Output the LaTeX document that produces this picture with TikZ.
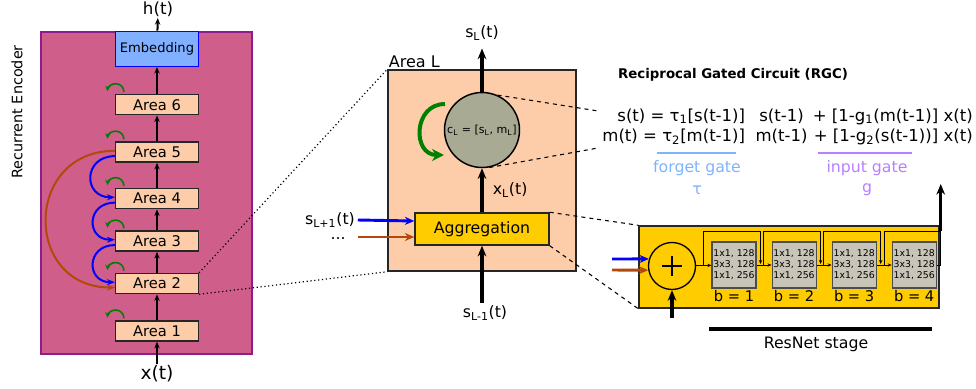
\documentclass[tikz,border=0pt]{standalone}
\usepackage{fontspec}
\setmainfont{DejaVu Sans}
\usepackage{tikz}
\usetikzlibrary{positioning,calc,arrows.meta,shapes}
\definecolor{encfill}{RGB}{208,94,138}
\definecolor{encdraw}{RGB}{142,28,140}
\definecolor{peach}{RGB}{253,204,168}
\definecolor{embfill}{RGB}{128,176,255}
\definecolor{gold}{RGB}{255,204,0}
\definecolor{cellgray}{RGB}{168,170,148}
\definecolor{blockgray}{RGB}{200,196,183}
\definecolor{fbbrown}{RGB}{178,72,12}
\definecolor{loopgreen}{RGB}{0,128,0}
\definecolor{forgetblue}{RGB}{128,179,255}
\definecolor{inputpurple}{RGB}{183,128,255}
\tikzset{
	area/.style = {rectangle, draw=black!85, line width=1.1pt, fill=peach, minimum width=62pt, minimum height=15pt, inner sep=0pt, font=\fontsize{11}{12}\selectfont},
	embbox/.style = {rectangle, draw=blue, line width=1pt, fill=embfill, minimum width=62pt, minimum height=26.25pt, inner sep=0pt, font=\fontsize{9.8}{11}\selectfont},
	block/.style = {rectangle, draw=black!70, line width=0.8pt, fill=blockgray, minimum width=33pt, minimum height=34.5pt, inner sep=0pt, align=center, font=\fontsize{7}{8.3}\selectfont},
	blabel/.style = {inner sep=1pt, font=\fontsize{11}{12}\selectfont},
	lbl/.style = {inner sep=2pt, font=\fontsize{11.8}{13}\selectfont},
	fwd/.style = {line width=1.5pt, -{Stealth[length=5pt,width=4pt]}},
	thickarrow/.style = {line width=2.3pt, -{Stealth[length=8pt,width=6.5pt]}},
	inarrow/.style = {line width=2.2pt, -{Stealth[length=7pt,width=6pt]}},
	selfloop/.style = {loopgreen, line width=1.2pt, -{Stealth[length=4pt,width=4pt]}},
	feedback/.style = {line width=1.5pt, -{Stealth[length=6pt,width=4.5pt]}},
	flow/.style = {line width=0.6pt, -{Stealth[length=3pt,width=2.5pt]}},
	zoomline/.style = {dotted, line width=0.9pt},
	dashline/.style = {dashed, line width=0.8pt}
}
\begin{document}
\begin{tikzpicture}[x=0.75pt, y=-0.75pt]
	\useasboundingbox (0,0) rectangle (976,389);
	% recurrent encoder
	\node[rectangle, draw=encdraw, line width=1.1pt, fill=encfill, minimum width=158.25pt, minimum height=241.5pt] (enc) at (146.5,193) {};
	\node[rotate=90, font=\fontsize{10.8}{12}\selectfont] (enctitle) at (17,112) {Recurrent Encoder};
	\node[area] (a1) at (157,331) {Area 1};
	\node[area] (a2) [above=19.5pt of a1] {Area 2};
	\node[area] (a3) [above=15.75pt of a2] {Area 3};
	\node[area] (a4) [above=15.75pt of a3] {Area 4};
	\node[area] (a5) [above=18.75pt of a4] {Area 5};
	\node[area] (a6) [above=19.5pt of a5] {Area 6};
	\node[embbox] (emb) [above=20.25pt of a6] {Embedding};
	\node[font=\fontsize{12.5}{14}\selectfont, inner sep=1pt] (ht) at (158,9) {h(t)};
	\node[font=\fontsize{14}{15}\selectfont, inner sep=1pt] (xt) at (157,374) {x(t)};
	\draw[fwd] (xt) -- (a1);
	\draw[fwd] (a1) -- (a2);
	\draw[fwd] (a2) -- (a3);
	\draw[fwd] (a3) -- (a4);
	\draw[fwd] (a4) -- (a5);
	\draw[fwd] (a5) -- (a6);
	\draw[fwd] (a6) -- (emb);
	\draw[fwd] (emb) -- (ht);
	\foreach \n in {a1,a2,a3,a4,a5,a6}
		\draw[selfloop] ($(\n.north west)+(9,-2)$) arc[start angle=0, end angle=175, radius=6.2pt];
	\draw[feedback, blue] ([yshift=-3pt]a5.west) to[out=180, in=180, looseness=2] ([yshift=1pt]a4.west);
	\draw[feedback, blue] ([yshift=-3pt]a4.west) to[out=180, in=180, looseness=2] ([yshift=1pt]a3.west);
	\draw[feedback, blue] ([yshift=-3pt]a3.west) to[out=180, in=180, looseness=2] ([yshift=1pt]a2.west);
	\draw[feedback, fbbrown] ([yshift=1pt]a5.west) to[out=180, in=180, looseness=1.72] ([yshift=-3pt]a2.west);
	% area L
	\node[rectangle, draw=black!85, line width=1.1pt, fill=peach, minimum width=141pt, minimum height=150.75pt,
		label={[anchor=south west, inner sep=1pt, font=\fontsize{12}{14}\selectfont]north west:Area L}] (arealbox) at (482,170.5) {};
	\draw[zoomline] (a2.north east) -- (arealbox.north west);
	\draw[zoomline] (a2.south east) -- (arealbox.south west);
	\node[circle, draw=black, line width=1.1pt, fill=cellgray, minimum size=56.25pt, inner sep=0pt, font=\fontsize{8.3}{10}\selectfont] (cell) at (482,130) {c\textsubscript{L} = [s\textsubscript{L}, m\textsubscript{L}]};
	\node[rectangle, draw=black!85, line width=1.1pt, fill=gold, minimum width=100.5pt, minimum height=24pt, font=\fontsize{11.8}{13}\selectfont] (agg) at (482,229) {Aggregation};
	\node[lbl] (sl) at (482,33) {s\textsubscript{L}(t)};
	\node[lbl] (slm) at (485,313) {s\textsubscript{L-1}(t)};
	\node[lbl] (slp) at (330,220) {s\textsubscript{L+1}(t)};
	\node[lbl, inner sep=0pt] (dots) at (338,239) {...};
	\draw[thickarrow, shorten >=4pt] (cell) -- (sl);
	\draw[thickarrow] (slm.north -| agg.south) -- (agg.south);
	\draw[thickarrow] (agg) -- (cell) node[midway, right=5pt, lbl] (xl) {x\textsubscript{L}(t)};
	\draw[inarrow, blue] (slp.east) -- ([yshift=6pt]agg.west);
	\draw[inarrow, fbbrown] ([yshift=-6pt]agg.west -| slp.east) -- ([yshift=-6pt]agg.west);
	\draw[loopgreen, line width=3pt, -{Stealth[length=9pt,width=9pt]}] ($(cell)+(-37,-26)$) to[out=180, in=180, looseness=1.6] ($(cell)+(-38,25)$);
	% reciprocal gated circuit
	\node[font=\bfseries\fontsize{10}{12}\selectfont] (rgc) at (733,75) {Reciprocal Gated Circuit (RGC)};
	\node[anchor=east, inner sep=0pt, font=\fontsize{12.4}{15}\selectfont] (eqs) at (973,127) {%
		\begin{tabular}{@{}r@{\ \ }c@{\ }r@{}}
			s(t) = τ\textsubscript{1}[s(t-1)] & s(t-1) & + [1-g\textsubscript{1}(m(t-1)] x(t)\\
			m(t) = τ\textsubscript{2}[m(t-1)] & m(t-1) & + [1-g\textsubscript{2}(s(t-1))] x(t)
		\end{tabular}};
	\coordinate (eqa) at (598,111);
	\coordinate (eqb) at (598,148);
	\draw[dashline] (cell.66) -- (eqa);
	\draw[dashline] (cell.-79) -- (eqb);
	\coordinate (fg1) at (657,153);
	\coordinate (fg2) at (736,153);
	\coordinate (ig1) at (818,153);
	\coordinate (ig2) at (912,153);
	\draw[forgetblue, line width=1.6pt] (fg1) -- (fg2);
	\draw[inputpurple, line width=1.6pt] (ig1) -- (ig2);
	\node[lbl, text=forgetblue] (fgate) at (697,168) {forget gate};
	\node[lbl, text=forgetblue] (tau) at (697,190) {τ};
	\node[lbl, text=inputpurple] (igate) at (867,168) {input gate};
	\node[lbl, text=inputpurple] (gsym) at (867,190) {g};
	% resnet stage
	\node[rectangle, draw=black!85, line width=1.1pt, fill=gold, minimum width=225pt, minimum height=61.5pt] (stage) at (789,267) {};
	\draw[dashline] (agg.north east) -- (stage.north west);
	\draw[dashline] (agg.south east) -- (stage.south west);
	\node[circle, draw=black, line width=1pt, minimum size=35.25pt, inner sep=0pt] (sum) at (672,266) {};
	\draw[line width=1.6pt] ($(sum)+(-10,0)$) -- ($(sum)+(10,0)$);
	\draw[line width=1.6pt] ($(sum)+(0,-10)$) -- ($(sum)+(0,10)$);
	\node[block, label={[blabel]below:b = 1}] (b1) at (734,265) {1x1, 128\\3x3, 128\\1x1, 256};
	\node[block, label={[blabel]below:b = 2}] (b2) [right=11.25pt of b1] {1x1, 128\\3x3, 128\\1x1, 256};
	\node[block, label={[blabel]below:b = 3}] (b3) [right=11.25pt of b2] {1x1, 128\\3x3, 128\\1x1, 256};
	\node[block, label={[blabel]below:b = 4}] (b4) [right=11.25pt of b3] {1x1, 128\\3x3, 128\\1x1, 256};
	\draw[flow] (sum) -- (b1);
	\draw[flow] (b1) -- (b2);
	\draw[flow] (b2) -- (b3);
	\draw[flow] (b3) -- (b4);
	\foreach \b in {b1,b2,b3}
		\draw[flow] ($(\b.west)+(-8,0)$) -- ++(0,-34) -| ($(\b.east)+(4,-1)$);
	\coordinate (outbase) at ($(b4.east)+(4,-34)$);
	\coordinate (outtop) at ($(outbase)+(0,-47)$);
	\draw[line width=0.6pt] ($(b4.west)+(-7,0)$) -- ++(0,-34) -- (outbase);
	\draw[line width=0.6pt] (b4.east) -| (outbase);
	\draw[thickarrow] (outbase) -- (outtop);
	\coordinate (bin) at (612,259);
	\coordinate (rin) at (612,270);
	\coordinate (sumin) at (672,318);
	\draw[inarrow, blue] (bin) -- (sum.163);
	\draw[inarrow, fbbrown] (rin) -- (sum.190);
	\draw[thickarrow] (sumin) -- (sum);
	\coordinate (rs1) at (709,329);
	\coordinate (rs2) at (932,329);
	\draw[line width=2.3pt] (rs1) -- (rs2);
	\node[font=\fontsize{11.8}{14}\selectfont] (rslabel) at (816,344) {ResNet stage};
\end{tikzpicture}
\end{document}
